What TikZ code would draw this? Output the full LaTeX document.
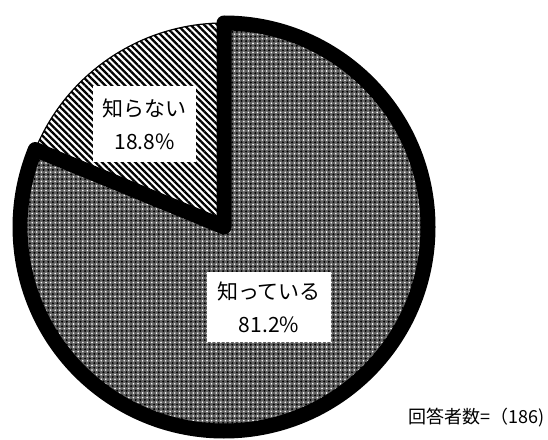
\documentclass[tikz,border=0pt]{standalone}
\usepackage{fontspec}
\newfontfamily\jp{Noto Sans CJK JP}
\usetikzlibrary{patterns.meta}
\tikzset{
  lbl/.style={fill=white, inner sep=0pt, align=center, font=\jp\fontsize{21}{33}\selectfont},
  stripes/.style={pattern={Lines[angle=-45,distance=4.7pt,line width=2.3pt]}, pattern color=black},
  dotsw/.style={pattern={Dots[distance=4.6pt,radius=0.9pt]}, pattern color=white},
  dotsb/.style={pattern={Dots[distance=4.6pt,radius=1.1pt,xshift=2.3pt,yshift=2.3pt]}, pattern color=black},
}
\begin{document}
\begin{tikzpicture}[x=1pt,y=1pt]
\fill[white] (0,0) rectangle (548,439);
\useasboundingbox (0,0) rectangle (548,439);
\coordinate (c) at (224,212);
\def\R{204}
% small slice
\fill[white] (c) -- ++(90:\R) arc[start angle=90,end angle=157.68,radius=\R] -- cycle;
\path[stripes] (c) -- ++(90:\R) arc[start angle=90,end angle=157.68,radius=\R] -- cycle;
\draw[line width=1.2pt] (c) -- ++(90:\R) arc[start angle=90,end angle=157.68,radius=\R] -- cycle;
% big slice
\fill[black!62] (c) -- ++(90:\R) arc[start angle=90,end angle=-202.32,radius=\R] -- cycle;
\path[dotsw] (c) -- ++(90:\R) arc[start angle=90,end angle=-202.32,radius=\R] -- cycle;
\path[dotsb] (c) -- ++(90:\R) arc[start angle=90,end angle=-202.32,radius=\R] -- cycle;
\draw[line width=15pt, line join=round] (c) -- ++(90:\R) arc[start angle=90,end angle=-202.32,radius=\R] -- cycle;
% labels
\node[lbl, minimum width=103pt, minimum height=76pt] (l1) at (144.5,315) {知らない\\18.8\%};
\node[lbl, minimum width=124pt, minimum height=70pt] (l2) at (269,132) {知っている\\81.2\%};
\node[anchor=east, inner sep=0pt, font=\jp\fontsize{18}{20}\selectfont] (n) at (545,21) {回答者数=（186)};
\end{tikzpicture}
\end{document}
